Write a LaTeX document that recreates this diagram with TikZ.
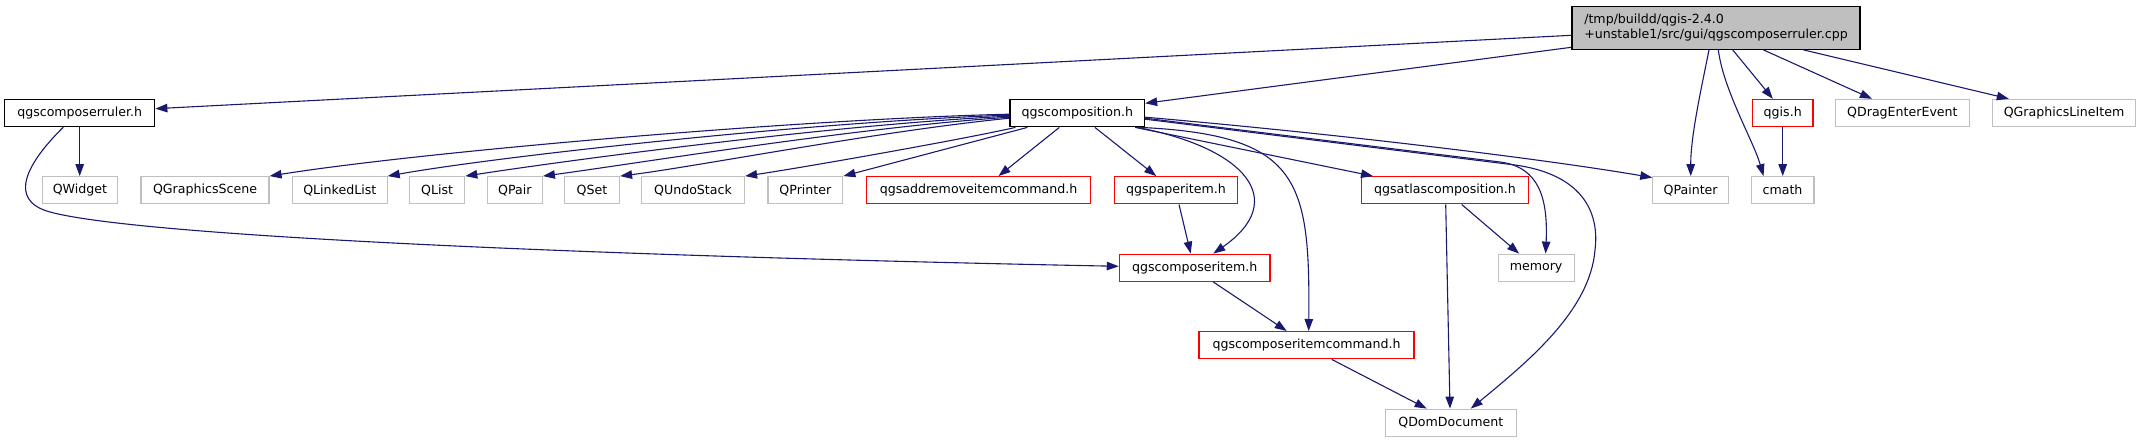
\documentclass[tikz,border=0pt]{standalone}
\usepackage{fontspec}
\setmainfont{DejaVu Sans}
\usetikzlibrary{arrows.meta}
\definecolor{edgec}{HTML}{191970}
\definecolor{grayb}{HTML}{BFBFBF}
\definecolor{redb}{HTML}{FF0000}
\definecolor{rootfill}{HTML}{BFBFBF}
\begin{document}
\begin{tikzpicture}[x=1pt,y=-1pt,
  every node/.style={font=\fontsize{12.6}{15}\selectfont, inner sep=0pt, minimum height=27.2pt, text=black},
  blk/.style={draw=black, line width=1.2pt, fill=white},
  ext/.style={draw=grayb, line width=1.2pt, fill=white},
  redbox/.style={draw=redb, line width=1.2pt, fill=white},
  rootbox/.style={draw=black, line width=1.2pt, fill=rootfill, align=left, minimum height=42.6pt},
  conn/.style={draw=edgec, line width=1.1pt, -{Triangle[length=12pt,width=8.5pt,fill=edgec]}}
]
\useasboundingbox (0,0) rectangle (2140,443);

% nodes
\node[rootbox, minimum width=288pt] (root) at (1716,28) {/tmp/buildd/qgis-2.4.0\\+unstable1/src/gui/qgscomposerruler.cpp};
\node[blk, minimum width=150.2pt] (ruler) at (79.7,113) {qgscomposerruler.h};
\node[blk, minimum width=134.5pt] (comp) at (1077.3,113.2) {qgscomposition.h};
\node[redbox, minimum width=60.4pt] (qgis) at (1782.7,113) {qgis.h};
\node[ext, minimum width=133.5pt] (qdrag) at (1902.4,113) {QDragEnterEvent};
\node[ext, minimum width=142.6pt] (qgli) at (2064,113) {QGraphicsLineItem};

\node[ext, minimum width=75.4pt] (qwidget) at (79.9,190.3) {QWidget};
\node[ext, minimum width=128pt] (qgs) at (205,190.3) {QGraphicsScene};
\node[ext, minimum width=94.6pt] (qll) at (339.8,190.3) {QLinkedList};
\node[ext, minimum width=55pt] (qlist) at (437.2,190.3) {QList};
\node[ext, minimum width=55pt] (qpair) at (514.8,190.3) {QPair};
\node[ext, minimum width=55pt] (qset) at (592,190.3) {QSet};
\node[ext, minimum width=103pt] (qundo) at (693,190.3) {QUndoStack};
\node[ext, minimum width=74.8pt] (qprinter) at (805.4,190.3) {QPrinter};
\node[redbox, minimum width=223.6pt] (addrem) at (978.5,190.3) {qgsaddremoveitemcommand.h};
\node[redbox, minimum width=122.6pt] (paper) at (1176,190.3) {qgspaperitem.h};
\node[redbox, minimum width=166.7pt] (atlas) at (1445,190.3) {qgsatlascomposition.h};
\node[ext, minimum width=75.5pt] (qpainter) at (1690.6,190.3) {QPainter};
\node[ext, minimum width=62.8pt] (cmath) at (1782.5,190.3) {cmath};

\node[redbox, minimum width=150.7pt] (citem) at (1194.7,267.8) {qgscomposeritem.h};
\node[ext, minimum width=76pt] (memory) at (1536.1,267.8) {memory};
\node[redbox, minimum width=215pt] (ccmd) at (1306.5,345.2) {qgscomposeritemcommand.h};
\node[ext, minimum width=130.6pt] (qdom) at (1450.8,422.8) {QDomDocument};

% edges from root
\draw[conn] ([yshift=-7.3pt]root.west) -- ([yshift=4.3pt]ruler.east);
\draw[conn] ([yshift=-19.3pt]root.west) -- ([yshift=9.9pt]comp.east);
\draw[conn] ([xshift=-7pt]root.south) .. controls +(-8,40) and +(0,-40) .. ([xshift=0.1pt]qpainter.north);
\draw[conn] ([xshift=2.3pt]root.south) .. controls +(5,40) and +(-10,-35) .. ([xshift=-19pt]cmath.north);
\draw[conn] ([xshift=16.7pt]root.south) -- ([xshift=-9.9pt]qgis.north);
\draw[conn] ([xshift=47.4pt]root.south) -- ([xshift=-30.5pt]qdrag.north);
\draw[conn] ([xshift=87.5pt]root.south) -- ([xshift=-55.2pt]qgli.north);
\draw[conn] (qgis.south) -- (qgis.south |- cmath.north);

% edges from ruler
\draw[conn] (ruler.south) -- (ruler.south |- qwidget.north);
\draw[conn] ([xshift=-16.4pt]ruler.south) .. controls (28,162) and (6,200) .. (50,212)
  .. controls (140,236.5) and (600,256) .. ([yshift=1.5pt]citem.west);

% edges from composition, left fan
\draw[conn] ([yshift=-1pt]comp.west) .. controls (800,119) and (420,152) .. (qgs.north east);
\draw[conn] ([yshift=-2pt]comp.west) .. controls (820,121) and (500,156) .. (qll.north east);
\draw[conn] ([yshift=-3pt]comp.west) .. controls (840,124) and (570,160) .. (qlist.north east);
\draw[conn] ([yshift=-4pt]comp.west) .. controls (860,127) and (640,163) .. (qpair.north east);
\draw[conn] ([yshift=-5pt]comp.west) .. controls (880,131) and (700,166) .. (qset.north east);
\draw[conn] ([xshift=6pt]comp.south west) .. controls (960,140) and (800,168) .. (qundo.north east);
\draw[conn] ([xshift=18pt]comp.south west) -- (qprinter.north east);
% composition, downward
\draw[conn] ([xshift=-18pt]comp.south) -- ([xshift=20pt]addrem.north);
\draw[conn] ([xshift=17.6pt]comp.south) -- ([xshift=-19.8pt]paper.north);
\draw[conn] ([xshift=-10pt]comp.south east) -- ([xshift=12pt]atlas.north west);
\draw[conn] ([xshift=-8pt]comp.south east) .. controls (1245,148) and (1290,200) .. ([xshift=18.6pt]citem.north);
\draw[conn] ([xshift=-5pt]comp.south east) .. controls (1300,135) and (1310,180) .. ([xshift=2.2pt]ccmd.north);
% composition, right bundle
\draw[conn] ([yshift=-4pt]comp.east) .. controls (1350,135) and (1550,160) .. ([yshift=-1.5pt]qpainter.north west);
\draw[conn] ([yshift=-5pt]comp.east) -- (1500,162) .. controls (1540,167) and (1548,200) .. ([xshift=9.5pt]memory.north);
\draw[conn] ([yshift=-6pt]comp.east) -- (1515,165) .. controls (1580,174) and (1600,210) .. (1595,250)
  .. controls (1590,310) and (1530,360) .. ([xshift=20pt]qdom.north);

% lower edges
\draw[conn] ([xshift=3pt]paper.south) -- ([xshift=-4pt]citem.north);
\draw[conn] ([xshift=18.6pt]citem.south) -- ([xshift=-19.8pt]ccmd.north);
\draw[conn] ([xshift=25.2pt]ccmd.south) -- ([xshift=-24.1pt]qdom.north);
\draw[conn] ([xshift=0.7pt]atlas.south) -- ([xshift=-0.8pt]qdom.north);
\draw[conn] ([xshift=16.7pt]atlas.south) -- ([xshift=-17pt]memory.north);
\end{tikzpicture}
\end{document}
